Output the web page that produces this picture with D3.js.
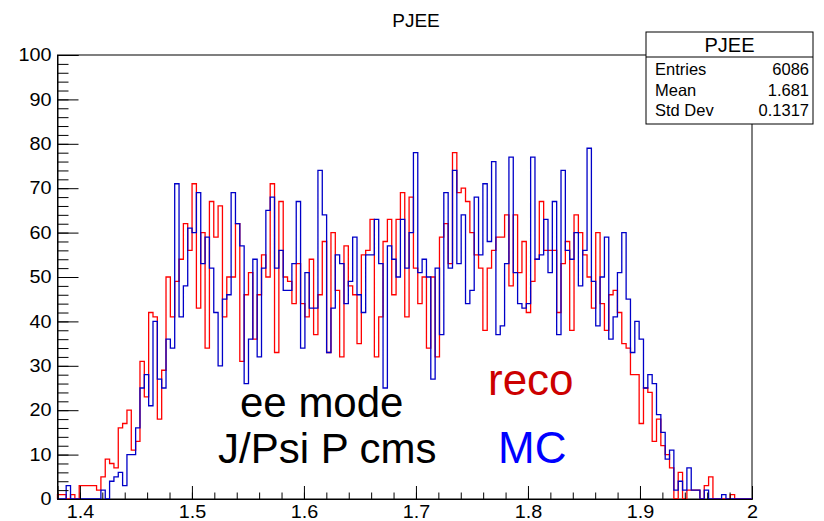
<!DOCTYPE html>
<html>
<head>
<meta charset="utf-8">
<script src="https://cdn.jsdelivr.net/npm/d3@7"></script>
<style>
  body { margin: 0; background: #fff; }
  svg { display: block; font-family: "Liberation Sans", Arial, Helvetica, sans-serif; }
</style>
</head>
<body>
<svg id="chart" width="824" height="521"></svg>
<script>
// histogram range and binning (160 bins)
const binRange = [1.38, 2.0];

// reco (red)
const recoCounts = [
  1, 1, 0, 1, 0, 3, 3, 3, 3, 2,
  5, 9, 8, 7, 16, 17, 20, 11, 13, 31,
  23, 42, 41, 18, 29, 50, 41, 49, 54, 62,
  56, 71, 43, 60, 34, 67, 59, 66, 41, 50,
  50, 62, 31, 46, 51, 36, 46, 55, 50, 71,
  33, 67, 50, 49, 44, 53, 44, 41, 54, 37,
  46, 58, 33, 60, 47, 32, 57, 48, 46, 35,
  55, 56, 63, 32, 41, 58, 63, 46, 63, 69,
  41, 68, 52, 44, 50, 34, 50, 32, 59, 62,
  53, 78, 69, 70, 67, 60, 55, 52, 38, 52,
  56, 59, 59, 64, 48, 64, 51, 58, 42, 49,
  54, 67, 56, 56, 56, 42, 53, 58, 38, 64,
  60, 55, 50, 43, 60, 44, 38, 46, 47, 42,
  35, 34, 28, 28, 17, 25, 24, 13, 18, 12,
  10, 7, 0, 6, 0, 2, 2, 2, 0, 3,
  5, 0, 0, 0, 0, 1, 0, 0, 0, 0
];

// MC (blue)
const mcCounts = [
  0, 0, 3, 0, 0, 0, 0, 0, 0, 0,
  2, 0, 4, 5, 6, 3, 10, 10, 16, 25,
  28, 21, 40, 27, 25, 36, 34, 71, 41, 48,
  61, 60, 69, 53, 59, 52, 42, 30, 45, 46,
  69, 62, 57, 26, 36, 54, 32, 52, 65, 68,
  52, 56, 47, 47, 53, 67, 34, 51, 43, 43,
  74, 64, 33, 43, 55, 53, 44, 49, 59, 46,
  42, 55, 55, 63, 53, 25, 57, 54, 50, 63,
  52, 60, 78, 51, 54, 50, 27, 52, 37, 69,
  52, 74, 53, 64, 44, 47, 68, 55, 71, 58,
  76, 37, 39, 53, 77, 51, 44, 43, 44, 77,
  54, 55, 63, 51, 67, 37, 74, 56, 54, 60,
  48, 56, 79, 49, 39, 50, 59, 36, 41, 51,
  60, 45, 33, 40, 36, 25, 28, 26, 19, 15,
  9, 11, 2, 4, 2, 7, 2, 2, 0, 2,
  0, 0, 0, 1, 0, 0, 0, 0, 0, 0
];

const xTickValues = [1.4, 1.5, 1.6, 1.7, 1.8, 1.9, 2.0];
const yTickValues = [0, 10, 20, 30, 40, 50, 60, 70, 80, 90, 100];
const statsRows = [["Entries", "6086"], ["Mean", "1.681"], ["Std Dev", "0.1317"]];

const W = 824, H = 521;
const frame = { left: 57.5, right: 752, top: 55, bottom: 499 };

const svg = d3.select("#chart");

const x = d3.scaleLinear().domain(binRange).range([frame.left, frame.right]);
const y = d3.scaleLinear().domain([0, 100]).range([frame.bottom, frame.top]);

// 画框
svg.append("rect")
  .attr("x", frame.left).attr("y", frame.top)
  .attr("width", frame.right - frame.left)
  .attr("height", frame.bottom - frame.top)
  .attr("fill", "none").attr("stroke", "#000").attr("stroke-width", 1);

// step outline like ROOT "hist"
const histPath = (counts) => {
  const n = counts.length;
  const w = (binRange[1] - binRange[0]) / n;
  const pts = [[binRange[0], 0]];
  counts.forEach((c, i) => pts.push([binRange[0] + i * w, c]));
  pts.push([binRange[1], counts[n - 1]]);
  pts.push([binRange[1], 0]);
  return d3.line().curve(d3.curveStepAfter)
    .x((d) => x(d[0])).y((d) => y(d[1]))(pts);
};

const hists = svg.append("g").attr("class", "hists");
hists.append("path")
  .attr("d", histPath(recoCounts))
  .attr("fill", "none").attr("stroke", "#ff0000").attr("stroke-width", 1.3);
hists.append("path")
  .attr("d", histPath(mcCounts))
  .attr("fill", "none").attr("stroke", "#0000c8").attr("stroke-width", 1.3);

// axes
const yMajor = svg.append("g")
  .attr("transform", `translate(${frame.left},0)`)
  .call(d3.axisLeft(y).tickValues(yTickValues).tickSize(-21).tickPadding(6).tickFormat(d3.format("~g")));
svg.append("g")
  .attr("transform", `translate(${frame.left},0)`)
  .call(d3.axisLeft(y).tickValues(d3.range(0, 101, 2)).tickSize(-11).tickFormat(""))
  .call((g) => g.select(".domain").remove());

const xMajor = svg.append("g")
  .attr("transform", `translate(0,${frame.bottom})`)
  .call(d3.axisBottom(x).tickValues(xTickValues).tickSize(-13).tickPadding(6).tickFormat(d3.format("~g")));
svg.append("g")
  .attr("transform", `translate(0,${frame.bottom})`)
  .call(d3.axisBottom(x).tickValues(d3.range(0, 32).map((i) => 1.38 + i * 0.02)).tickSize(-6.5).tickFormat(""))
  .call((g) => g.select(".domain").remove());

svg.selectAll(".tick line").attr("stroke", "#000");
svg.selectAll(".domain").attr("stroke", "#000");

// ROOT labels look a bit wider than normal
yMajor.selectAll("text")
  .attr("font-size", 18).attr("fill", "#000")
  .attr("transform", function () {
    const tx = +d3.select(this).attr("x");
    d3.select(this).attr("x", 0);
    return `translate(${tx},0) scale(1.1,1)`;
  });
xMajor.selectAll("text")
  .attr("font-size", 18).attr("fill", "#000")
  .attr("transform", "scale(1.1,1)");

// title
svg.append("text")
  .attr("x", 416).attr("y", 27)
  .attr("text-anchor", "middle")
  .attr("font-size", 19)
  .text("PJEE");

// annotations
const notes = svg.append("g").attr("font-size", 42);
notes.append("text").attr("x", 240).attr("y", 417).attr("fill", "#000").text("ee mode");
notes.append("text").attr("x", 218).attr("y", 463).attr("fill", "#000").text("J/Psi P cms");
notes.append("text").attr("x", 488).attr("y", 395).attr("font-size", 44).attr("fill", "#cc0000").text("reco");
notes.append("text").attr("x", 498).attr("y", 463).attr("font-size", 44).attr("fill", "#0000ff").text("MC");

// stats box
const box = { x: 646, y: 32, w: 167, h: 92, head: 25 };
const stats = svg.append("g");
stats.append("rect")
  .attr("x", box.x).attr("y", box.y).attr("width", box.w).attr("height", box.h)
  .attr("fill", "#fff").attr("stroke", "#000");
stats.append("line")
  .attr("x1", box.x).attr("x2", box.x + box.w)
  .attr("y1", box.y + box.head).attr("y2", box.y + box.head)
  .attr("stroke", "#000");
stats.append("text")
  .attr("x", box.x + box.w / 2).attr("y", box.y + 20)
  .attr("text-anchor", "middle").attr("font-size", 20)
  .text("PJEE");
statsRows.forEach((r, i) => {
  const by = box.y + 43 + i * 20.5;
  stats.append("text").attr("x", box.x + 9).attr("y", by).attr("font-size", 16.5).text(r[0]);
  stats.append("text").attr("x", box.x + box.w - 4).attr("y", by)
    .attr("text-anchor", "end").attr("font-size", 16.5).text(r[1]);
});
</script>
</body>
</html>
